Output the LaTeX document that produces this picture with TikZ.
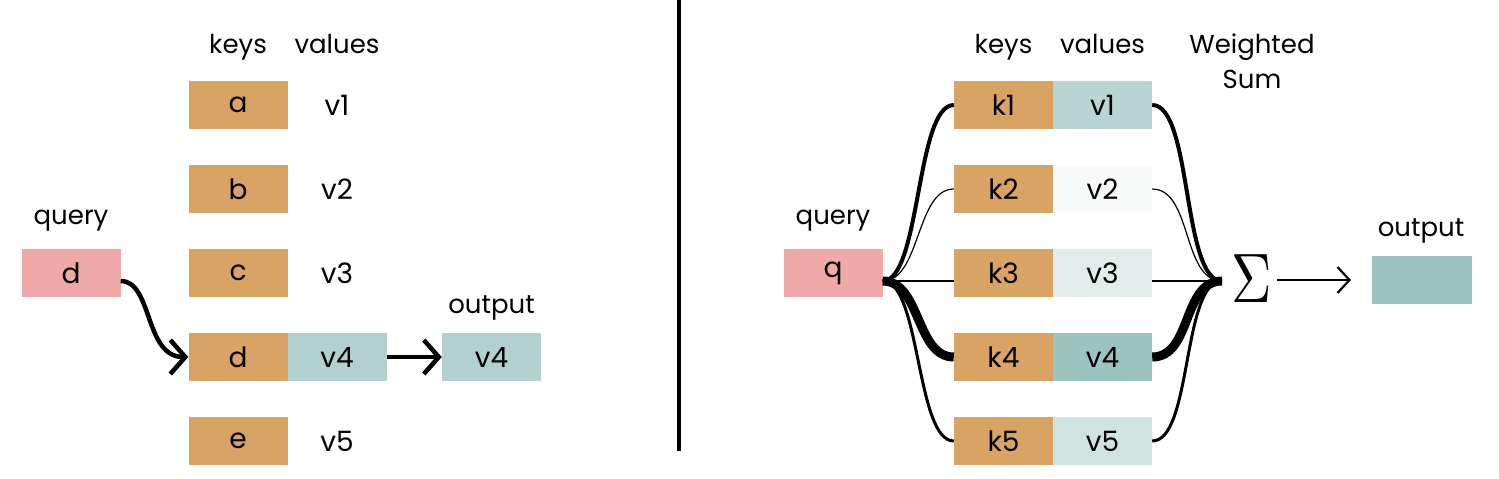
\documentclass[tikz,border=0pt]{standalone}
\usepackage{fontspec}
\setmainfont{Poppins}
\usetikzlibrary{arrows.meta}
\definecolor{keyc}{HTML}{D9A463}
\definecolor{qc}{HTML}{F0A9A9}
\definecolor{lvc}{HTML}{B2D1CC}
\definecolor{vA}{HTML}{B8D5D1}
\definecolor{vB}{HTML}{F7FAF9}
\definecolor{vC}{HTML}{E2EDEB}
\definecolor{vD}{HTML}{9CC3BD}
\definecolor{vE}{HTML}{CFE3E0}
\definecolor{outc}{HTML}{9CC2BC}
\tikzset{
  lbl/.style={anchor=base, inner sep=0pt, font=\fontsize{26}{30}\selectfont},
  boxtxt/.style={inner sep=0pt, font=\fontsize{28}{32}\selectfont},
  cell/.style={boxtxt, minimum width=99pt, minimum height=48pt},
  keybox/.style={cell, fill=keyc},
  qbox/.style={cell, fill=qc},
  heavyarrow/.style={line width=4.5pt, -{Straight Barb[length=15pt,width=34pt,line width=4.5pt]}},
  thinarrow/.style={line width=2.2pt, -{Straight Barb[length=12pt,width=26pt,line width=2.2pt]}},
}
\begin{document}
\begin{tikzpicture}[x=1pt,y=-1pt]
\useasboundingbox (0,0) rectangle (1499,479);
% ---------------- left panel
\node[lbl] (lkeys) at (238,53) {keys};
\node[lbl] (lvals) at (337,53) {values};
\node[keybox] (la) at (238,105) {a};
\node[keybox] (lb) at (238,189) {b};
\node[keybox] (lc) at (238,273) {c};
\node[keybox] (ld) at (238,357) {d};
\node[keybox] (le) at (238,441) {e};
\node[boxtxt] (lv1) at (337,105) {v1};
\node[boxtxt] (lv2) at (337,189) {v2};
\node[boxtxt] (lv3) at (337,273) {v3};
\node[cell, fill=lvc] (lv4) at (337,357) {v4};
\node[boxtxt] (lv5) at (337,441) {v5};
\node[lbl] (lqlab) at (71,224) {query};
\node[qbox] (lq) at (71,273) {d};
\node[lbl] (loutlab) at (491.5,313) {output};
\node[cell, fill=lvc] (lout) at (491.5,357) {v4};
\draw[heavyarrow] ([yshift=-8pt]lq.east) .. controls +(32,0) and +(-44,0) .. (ld.west);
\draw[heavyarrow] (lv4.east) -- (lout.west);
% ---------------- divider
\coordinate (dtop) at (679,0);
\coordinate (dbot) at (679,451);
\draw[line width=4pt] (dtop) -- (dbot);
% ---------------- right panel
\node[lbl] (rkeys) at (1003.5,53) {keys};
\node[lbl] (rvals) at (1102.5,53) {values};
\node[lbl, align=center, anchor=base] (wsum) at (1252,88) {Weighted\\[5pt]Sum};
\node[lbl] (rqlab) at (833,224) {query};
\node[qbox] (rq) at (833,273) {q};
\foreach \i/\c [evaluate=\i as \yy using 105+84*(\i-1)] in {1/vA,2/vB,3/vC,4/vD,5/vE}{
  \node[keybox] (rk\i) at (1003.5,\yy) {k\i};
  \node[cell, fill=\c] (rv\i) at (1102.5,\yy) {v\i};
}
\coordinate (hub) at ([yshift=-8pt]rq.east);
\coordinate (merge) at (1222,281);
% query -> keys
\draw[line width=4pt]   (hub) .. controls +(38,0) and +(-38,0) .. (rk1.west);
\draw[line width=1.2pt] (hub) .. controls +(38,0) and +(-38,0) .. (rk2.west);
\draw[line width=2.5pt] (hub) -- ([yshift=-8pt]rk3.west);
\draw[line width=9pt]   (hub) .. controls +(38,0) and +(-38,0) .. (rk4.west);
\draw[line width=3pt]   (hub) .. controls +(38,0) and +(-38,0) .. (rk5.west);
% values -> sum
\draw[line width=4pt]   (rv1.east) .. controls +(40,0) and +(-40,0) .. (merge);
\draw[line width=1.2pt] (rv2.east) .. controls +(40,0) and +(-40,0) .. (merge);
\draw[line width=2.5pt] ([yshift=-8pt]rv3.east) -- (merge);
\draw[line width=9pt]   (rv4.east) .. controls +(40,0) and +(-40,0) .. (merge);
\draw[line width=3pt]   (rv5.east) .. controls +(40,0) and +(-40,0) .. (merge);
\node[xscale=5.6, yscale=7.0, inner sep=0pt] (sig) at (1252,279) {$\Sigma$};
\node[lbl] (routlab) at (1421,236) {output};
\node[cell, fill=outc, minimum width=100pt] (rout) at (1422,280) {};
\coordinate (arrstart) at (1277,280);
\coordinate (arrend) at (1351,280);
\draw[thinarrow] (arrstart) -- (arrend);
\end{tikzpicture}
\end{document}
